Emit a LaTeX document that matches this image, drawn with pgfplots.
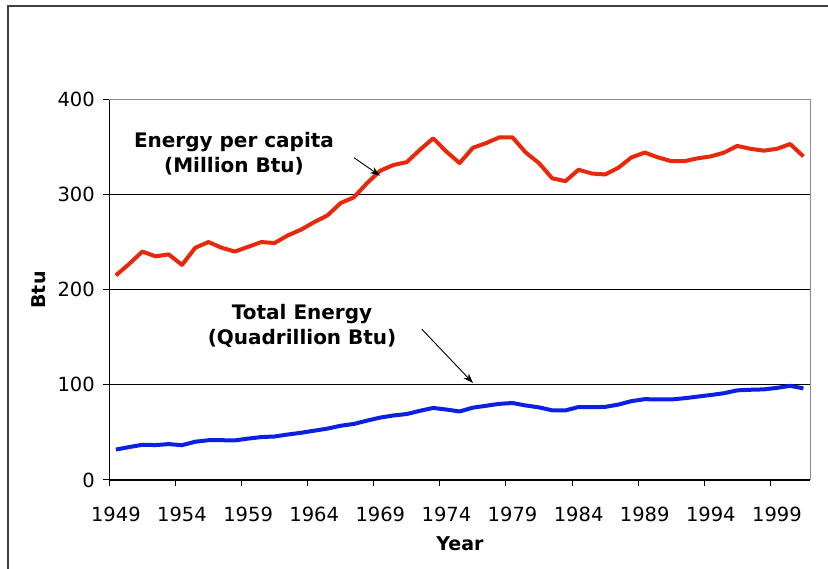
\documentclass[border=0pt]{standalone}
\usepackage{fontspec}
\setmainfont{DejaVu Sans}
\usepackage{pgfplots}
\pgfplotsset{compat=1.18}
\usetikzlibrary{arrows.meta}
\definecolor{capred}{RGB}{232,40,10}
\definecolor{totblue}{RGB}{12,32,228}

\begin{document}
\begin{tikzpicture}
\useasboundingbox (-109.3pt,-89pt) rectangle (718.7pt,480pt);
% outer chart frame (left and top edges visible)
\draw[black!75, line width=1.5pt] (-101.3pt,-95pt) -- (-101.3pt,474pt) -- (725pt,474pt);

\begin{axis}[
    scale only axis,
    width=700.7pt, height=380.7pt,
    at={(0,0)}, anchor=south west,
    xmin=1948.5, xmax=2001.5,
    ymin=0, ymax=400,
    axis lines*=left,
    axis line style={black, line width=1pt},
    tick align=outside,
    major tick length=6pt,
    tick style={black, line width=1pt},
    xtick={1948.5,1953.5,...,1998.5},
    xticklabel={\pgfmathparse{int(round(\tick+0.5))}\pgfmathresult},
    xticklabel style={xshift=6.6pt, yshift=-17pt},
    yticklabel style={xshift=-5pt},
    ytick={0,100,...,400},
    ymajorgrids,
    grid style={black, line width=0.8pt},
    ticklabel style={font=\fontsize{19.5}{23}\selectfont},
    /pgf/number format/assume math mode=true,
    clip=false,
]

% Energy per capita (Million Btu)
\addplot[capred, line width=4pt, line join=round] coordinates {
(1949,215)(1950,227)(1951,240)(1952,235)(1953,237)(1954,226)(1955,244)
(1956,250)(1957,244)(1958,240)(1959,245)(1960,250)(1961,249)(1962,257)
(1963,263)(1964,271)(1965,278)(1966,291)(1967,297)(1968,312)(1969,325)
(1970,331)(1971,334)(1972,347)(1973,359)(1974,345)(1975,333)(1976,349)
(1977,354)(1978,360)(1979,360)(1980,344)(1981,333)(1982,317)(1983,314)
(1984,326)(1985,322)(1986,321)(1987,328)(1988,339)(1989,344)(1990,339)
(1991,335)(1992,335)(1993,338)(1994,340)(1995,344)(1996,351)(1997,348)
(1998,346)(1999,348)(2000,353)(2001,340)
};

% Total energy (Quadrillion Btu)
\addplot[totblue, line width=4pt, line join=round] coordinates {
(1949,32.0)(1950,34.6)(1951,37.0)(1952,36.7)(1953,37.7)(1954,36.6)(1955,40.2)
(1956,41.8)(1957,41.8)(1958,41.6)(1959,43.5)(1960,45.1)(1961,45.7)(1962,47.8)
(1963,49.6)(1964,51.8)(1965,54.0)(1966,57.0)(1967,58.9)(1968,62.4)(1969,65.6)
(1970,67.8)(1971,69.3)(1972,72.7)(1973,75.7)(1974,74.0)(1975,72.0)(1976,76.0)
(1977,78.0)(1978,80.0)(1979,80.9)(1980,78.3)(1981,76.3)(1982,73.2)(1983,73.1)
(1984,76.7)(1985,76.5)(1986,76.8)(1987,79.2)(1988,82.9)(1989,84.9)(1990,84.7)
(1991,84.6)(1992,85.9)(1993,87.6)(1994,89.3)(1995,91.2)(1996,94.2)(1997,94.8)
(1998,95.2)(1999,96.8)(2000,98.9)(2001,96.3)
};

% plot area border (top and right)
\draw[black!45, line width=1pt] (rel axis cs:0,1) -- (rel axis cs:1,1) -- (rel axis cs:1,0);

% annotations
\node[font=\bfseries\fontsize{20}{25.5}\selectfont, align=center]
  at (axis cs:1957.93,343) {Energy per capita\\(Million Btu)};
\draw[line width=0.9pt, -{Stealth[length=10pt,width=7pt]}]
  (axis cs:1967.01,338.6) -- (axis cs:1968.98,319.7);
\node[font=\bfseries\fontsize{20}{25.5}\selectfont, align=center]
  at (axis cs:1963.08,161.8) {Total Energy\\(Quadrillion Btu)};
\draw[line width=0.9pt, -{Stealth[length=10pt,width=7pt]}]
  (axis cs:1972.13,158.6) -- (axis cs:1976.01,101.9);
\end{axis}

% axis titles
\node[rotate=90, font=\bfseries\fontsize{19}{23}\selectfont] at (-71pt,190pt) {Btu};
\node[font=\bfseries\fontsize{19}{23}\selectfont] at (350.7pt,-64pt) {Year};
\end{tikzpicture}
\end{document}
